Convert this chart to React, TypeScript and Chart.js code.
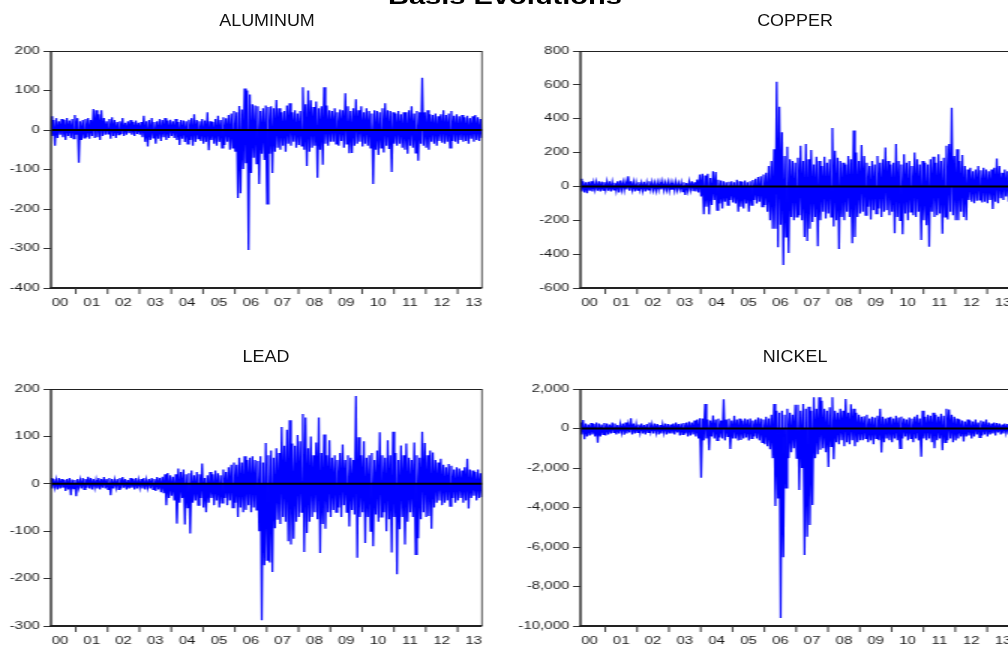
import React, { useEffect, useRef } from 'react';
import { Chart, registerables } from 'chart.js';

Chart.register(...registerables);

// ---------------- data (monthly envelope) ----------------
// one high and one low value per month, March 2000 .. September 2013
const YEAR_LABELS = ['00', '01', '02', '03', '04', '05', '06', '07', '08', '09', '10', '11', '12', '13'];
const FIRST_MONTH = 2000.22;
const X_MIN = 2000.22;
const X_MAX = 2013.765;

const ALU_HI = [
  35, 25, 30, 22, 28, 25, 30, 24, 28, 38,
  30, 22, 25, 28, 30, 25, 53, 50, 40, 50, 30, 22,
  28, 32, 25, 20, 22, 30, 18, 22, 25, 20, 24, 18,
  20, 36, 22, 25, 30, 20, 22, 28, 25, 30, 24, 26,
  22, 28, 20, 25, 24, 22, 26, 30, 40, 25, 22, 28,
  24, 45, 22, 20, 28, 36, 25, 32, 30, 38, 42, 48,
  45, 61, 52, 105, 100, 90, 65, 62, 60, 48, 55, 62,
  58, 60, 55, 76, 55, 45, 48, 62, 68, 45, 50, 42,
  48, 108, 65, 100, 75, 58, 72, 55, 60, 108, 62, 50,
  48, 55, 45, 52, 50, 93, 60, 48, 55, 78, 50, 60,
  45, 55, 48, 42, 50, 48, 45, 55, 68, 50, 48, 45,
  42, 48, 40, 45, 45, 50, 60, 42, 48, 45, 132, 45,
  50, 40, 38, 42, 35, 40, 50, 38, 42, 48, 36, 40,
  35, 38, 32, 36, 30, 35, 38, 32, 28,
];
const ALU_LO = [
  -15, -40, -20, -12, -18, -25, -15, -20, -22, -12,
  -83, -25, -20, -18, -22, -15, -20, -18, -25, -15, -12, -10,
  -22, -15, -20, -12, -10, -15, -12, -8, -12, -15, -10, -12,
  -18, -30, -42, -25, -20, -35, -22, -28, -18, -25, -20, -15,
  -20, -25, -38, -22, -30, -35, -25, -40, -30, -22, -28, -35,
  -30, -51, -25, -35, -40, -30, -45, -38, -30, -50, -45, -55,
  -172, -160, -99, -84, -304, -109, -70, -85, -137, -60, -76, -187,
  -60, -109, -55, -45, -50, -40, -55, -35, -40, -30, -45, -38,
  -40, -50, -91, -55, -45, -40, -121, -50, -88, -35, -40, -30,
  -30, -35, -40, -28, -45, -35, -59, -58, -40, -35, -30, -42,
  -35, -40, -45, -137, -50, -63, -45, -57, -40, -48, -106, -35,
  -40, -35, -45, -50, -60, -40, -45, -58, -78, -35, -40, -45,
  -50, -30, -35, -40, -28, -32, -35, -30, -45, -28, -30, -35,
  -25, -30, -28, -35, -22, -30, -25, -28, -20,
];

const COP_HI = [
  45, 30, 25, 28, 30, 22, 25, 30, 28, 25,
  28, 30, 25, 22, 30, 35, 25, 28, 60, 30, 25, 22,
  25, 20, 28, 22, 30, 25, 20, 22, 25, 28, 20, 25,
  22, 20, 25, 18, 22, 25, 20, 28, 30, 25, 40, 70,
  75, 65, 75, 50, 90, 85, 40, 35, 30, 25, 28, 30,
  25, 40, 30, 28, 35, 25, 30, 38, 45, 55, 60, 70,
  80, 120, 150, 220, 619, 471, 320, 180, 235, 160, 150, 140,
  170, 240, 150, 250, 160, 215, 130, 175, 150, 120, 175, 140,
  160, 345, 210, 170, 150, 140, 130, 180, 160, 330, 200, 150,
  245, 180, 140, 120, 150, 130, 180, 140, 160, 230, 150, 130,
  140, 250, 150, 130, 190, 140, 150, 120, 200, 160, 130, 150,
  140, 130, 160, 175, 140, 190, 150, 170, 240, 250, 465, 180,
  220, 150, 185, 120, 100, 110, 90, 100, 120, 95, 110, 100,
  90, 100, 110, 165, 120, 80, 100, 90, 70,
];
const COP_LO = [
  -30, -35, -40, -25, -30, -20, -25, -30, -22, -20,
  -25, -30, -20, -25, -35, -20, -22, -18, -25, -20, -30, -22,
  -20, -25, -30, -20, -18, -22, -25, -20, -18, -22, -20, -25,
  -20, -25, -22, -18, -30, -50, -25, -20, -28, -30, -35, -60,
  -165, -120, -165, -110, -80, -140, -100, -130, -90, -110, -80, -95,
  -100, -149, -120, -130, -100, -150, -110, -80, -100, -90, -120, -110,
  -150, -200, -250, -250, -359, -227, -464, -298, -393, -180, -200, -180,
  -170, -200, -298, -323, -250, -210, -180, -353, -200, -150, -190, -160,
  -180, -236, -200, -370, -180, -200, -150, -180, -335, -298, -180, -160,
  -150, -170, -120, -195, -140, -160, -130, -180, -150, -140, -170, -150,
  -276, -180, -200, -283, -160, -200, -150, -170, -180, -150, -316, -200,
  -230, -356, -150, -180, -170, -160, -280, -180, -195, -150, -170, -200,
  -200, -150, -180, -200, -80, -90, -100, -85, -80, -95, -90, -100,
  -80, -133, -90, -100, -70, -80, -60, -90, -70,
];

const LEAD_HI = [
  12, 10, 8, 12, 10, 8, 10, 12, 9, 8,
  10, 8, 12, 10, 15, 12, 10, 8, 12, 10, 14, 10,
  12, 10, 8, 10, 12, 14, 10, 8, 12, 10, 12, 8,
  10, 12, 8, 10, 12, 10, 14, 12, 15, 20, 23, 18,
  15, 20, 32, 25, 30, 20, 22, 28, 18, 25, 20, 43,
  12, 18, 25, 20, 28, 22, 18, 30, 25, 35, 40, 45,
  40, 55, 45, 58, 50, 55, 58, 50, 48, 58, 45, 86,
  60, 70, 55, 75, 65, 120, 80, 114, 134, 85, 80, 103,
  90, 147, 140, 75, 100, 60, 87, 140, 65, 104, 60, 92,
  55, 60, 50, 65, 83, 50, 60, 55, 50, 185, 98, 60,
  90, 55, 60, 65, 50, 70, 109, 60, 55, 92, 60, 110,
  65, 50, 81, 60, 85, 55, 50, 87, 60, 55, 110, 86,
  60, 70, 66, 50, 45, 53, 40, 35, 42, 38, 30, 35,
  32, 28, 35, 53, 30, 28, 25, 30, 22,
];
const LEAD_LO = [
  -10, -8, -12, -10, -8, -15, -12, -24, -10, -26,
  -8, -10, -12, -8, -10, -12, -8, -10, -12, -8, -10, -12,
  -24, -10, -8, -12, -10, -8, -12, -10, -8, -12, -10, -8,
  -10, -12, -8, -10, -12, -15, -12, -18, -20, -45, -30, -25,
  -35, -84, -40, -30, -86, -50, -105, -40, -35, -45, -30, -50,
  -60, -40, -30, -45, -35, -50, -40, -30, -45, -35, -50, -40,
  -70, -50, -60, -55, -45, -60, -50, -55, -100, -288, -172, -161,
  -166, -186, -94, -76, -85, -70, -80, -121, -128, -116, -80, -70,
  -60, -144, -104, -80, -70, -60, -75, -146, -85, -95, -60, -70,
  -55, -60, -50, -70, -45, -60, -90, -55, -65, -156, -70, -60,
  -125, -70, -100, -132, -65, -80, -70, -60, -100, -75, -145, -70,
  -191, -96, -70, -128, -80, -60, -70, -149, -115, -75, -60, -70,
  -68, -95, -50, -40, -35, -45, -40, -35, -47, -30, -40, -35,
  -30, -40, -35, -52, -30, -25, -35, -30, -28,
];

const NICK_HI = [
  300, 430, 250, 200, 280, 220, 300, 250, 200, 280,
  250, 200, 300, 250, 180, 220, 250, 300, 200, 516, 250, 220,
  200, 250, 180, 220, 300, 200, 250, 220, 180, 200, 250, 220,
  200, 250, 300, 220, 250, 280, 300, 350, 300, 400, 450, 514,
  500, 1240, 450, 400, 657, 450, 500, 400, 1480, 450, 500, 400,
  650, 450, 500, 400, 500, 450, 500, 400, 450, 550, 500, 450,
  600, 500, 700, 1240, 900, 800, 900, 700, 1000, 800, 700, 1200,
  1200, 900, 1240, 1000, 1100, 900, 1580, 1000, 1580, 1410, 1000, 900,
  1070, 1580, 900, 800, 1000, 900, 1490, 800, 1230, 1000, 800, 700,
  600, 620, 700, 500, 600, 550, 650, 1000, 600, 500, 550, 600,
  500, 650, 550, 600, 500, 450, 550, 500, 600, 700, 500, 900,
  600, 700, 650, 800, 700, 600, 750, 650, 1000, 960, 700, 600,
  500, 450, 400, 350, 450, 400, 350, 450, 300, 400, 350, 450,
  300, 250, 300, 280, 250, 200, 250, 220, 200,
];
const NICK_LO = [
  -300, -540, -400, -350, -300, -400, -720, -400, -300, -350,
  -300, -250, -200, -300, -250, -200, -320, -250, -200, -300, -250, -200,
  -200, -250, -300, -200, -150, -250, -200, -300, -250, -200, -300, -250,
  -250, -300, -200, -350, -300, -250, -400, -350, -300, -400, -500, -2490,
  -600, -500, -1100, -400, -500, -600, -450, -500, -600, -400, -1040, -500,
  -500, -600, -580, -500, -450, -600, -500, -400, -500, -600, -700, -800,
  -900, -1050, -1500, -3920, -3540, -9600, -6520, -3010, -1500, -1200, -1000, -1500,
  -3110, -2000, -6400, -5480, -4890, -3870, -1500, -1300, -1080, -1000, -1200, -1950,
  -900, -1560, -700, -800, -600, -900, -700, -800, -600, -900, -700, -600,
  -600, -500, -700, -600, -800, -500, -600, -1220, -700, -500, -600, -700,
  -500, -600, -1000, -500, -400, -600, -500, -700, -500, -600, -1430, -500,
  -600, -500, -700, -1000, -600, -500, -1100, -700, -600, -500, -700, -600,
  -500, -400, -660, -400, -350, -500, -400, -300, -450, -350, -300, -400,
  -300, -250, -350, -200, -300, -250, -200, -300, -250,
];

const ALU_Y_TICKS = [200, 100, 0, -100, -200, -300, -400];
const COP_Y_TICKS = [800, 600, 400, 200, 0, -200, -400, -600];
const LEAD_Y_TICKS = [200, 100, 0, -100, -200, -300];
const NICK_Y_TICKS = [2000, 0, -2000, -4000, -6000, -8000, -10000];

// ---------------- drawing ----------------
const SX = 1.5; // the picture is horizontally stretched
const FONT = '"Liberation Sans", Arial, Helvetica, sans-serif';
const CH = 324;

const framePlugin = {
  id: 'frame',
  afterDatasetsDraw(chart: any) {
    const { ctx, chartArea, scales } = chart;
    const { left, right, top, bottom } = chartArea;
    const y0 = scales.y.getPixelForValue(0);
    ctx.save();
    ctx.strokeStyle = '#000';
    ctx.lineWidth = 2;
    ctx.beginPath();
    ctx.moveTo(left, y0);
    ctx.lineTo(right, y0);
    ctx.stroke();

    ctx.strokeStyle = '#222';
    ctx.lineWidth = 1;
    ctx.beginPath();
    ctx.moveTo(left, top + 0.5);
    ctx.lineTo(right, top + 0.5);
    ctx.stroke();
    ctx.lineWidth = 0.8;
    ctx.beginPath();
    ctx.moveTo(right, top);
    ctx.lineTo(right, bottom);
    ctx.stroke();
    ctx.lineWidth = 1.4;
    ctx.beginPath();
    ctx.moveTo(left, top);
    ctx.lineTo(left, bottom + 1);
    ctx.stroke();
    ctx.lineWidth = 2;
    ctx.beginPath();
    ctx.moveTo(left - 0.7, bottom);
    ctx.lineTo(right, bottom);
    ctx.stroke();

    ctx.strokeStyle = '#333';
    ctx.lineWidth = 1;
    for (let yr = Math.ceil(X_MIN); yr <= X_MAX; yr++) {
      const px = scales.x.getPixelForValue(yr);
      ctx.beginPath();
      ctx.moveTo(px, bottom);
      ctx.lineTo(px, bottom + 6);
      ctx.stroke();
    }
    ctx.restore();
  },
};

type PanelProps = {
  left: number;
  top: number;
  axisW: number;
  hi: number[];
  lo: number[];
  yTicks: number[];
  padTop: number;
  padBottom: number;
};

function Panel({ left, top, axisW, hi, lo, yTicks, padTop, padBottom }: PanelProps) {
  const ref = useRef<HTMLCanvasElement>(null);
  const cw = axisW + 287.33 + 10.67;
  useEffect(() => {
    const canvas = ref.current;
    if (!canvas) return;
    const pts: { x: number; y: number }[] = [];
    for (let i = 0; i < hi.length; i++) {
      pts.push({ x: FIRST_MONTH + i / 12, y: hi[i] });
      pts.push({ x: FIRST_MONTH + (i + 0.5) / 12, y: lo[i] });
    }
    const sortedTicks = [...yTicks].sort((a, b) => a - b);
    const yMin = sortedTicks[0];
    const yMax = sortedTicks[sortedTicks.length - 1];
    const chart = new Chart(canvas, {
      type: 'line',
      data: {
        datasets: [
          {
            data: pts,
            borderColor: '#0000ff',
            backgroundColor: '#0000ff',
            borderWidth: 1.25,
            pointRadius: 0,
            tension: 0,
            fill: 'origin',
          },
        ],
      },
      options: {
        animation: false,
        responsive: false,
        devicePixelRatio: 1,
        events: [],
        layout: { padding: { left: 0, right: 10.67, top: padTop, bottom: padBottom } },
        plugins: {
          legend: { display: false },
          tooltip: { enabled: false },
          title: { display: false },
        },
        scales: {
          x: {
            type: 'linear',
            min: X_MIN,
            max: X_MAX,
            afterBuildTicks: (s: any) => {
              s.ticks = YEAR_LABELS.map((_, k) => ({ value: 2000.5 + k }));
            },
            afterFit: (s: any) => {
              s.height = 20;
              s.paddingLeft = 0;
              s.paddingRight = 0;
            },
            grid: { display: false, drawTicks: false },
            border: { display: false },
            ticks: {
              padding: 9,
              autoSkip: false,
              maxRotation: 0,
              color: '#1a1a1a',
              font: { family: FONT, size: 10 },
              callback: (v: any) => YEAR_LABELS[Math.round(Number(v) - 2000.5)],
            },
          },
          y: {
            type: 'linear',
            min: yMin,
            max: yMax,
            afterBuildTicks: (s: any) => {
              s.ticks = sortedTicks.map((v) => ({ value: v }));
            },
            afterFit: (s: any) => {
              s.width = axisW;
              s.paddingTop = 0;
              s.paddingBottom = 0;
            },
            grid: { drawOnChartArea: false, drawTicks: true, tickLength: 5, color: '#333', lineWidth: 1 },
            border: { display: false },
            ticks: {
              padding: 2.5,
              autoSkip: false,
              color: '#1a1a1a',
              font: { family: FONT, size: 10 },
              callback: (v: any) => Number(v).toLocaleString('en-US'),
            },
          },
        },
      },
      plugins: [framePlugin],
    } as any);
    return () => chart.destroy();
  }, []);
  return (
    <canvas
      ref={ref}
      width={cw}
      height={CH}
      style={{ position: 'absolute', left, top, width: cw, height: CH }}
    />
  );
}

function PanelTitle({ cx, cy, text }: { cx: number; cy: number; text: string }) {
  return (
    <div
      style={{
        position: 'absolute',
        left: cx - 100,
        top: cy - 7.8,
        width: 200,
        textAlign: 'center',
        fontFamily: FONT,
        fontSize: 16,
        lineHeight: '16px',
        color: '#111',
        whiteSpace: 'nowrap',
        transform: 'scaleX(1.12)',
        transformOrigin: '50% 50%',
      }}
    >
      {text}
    </div>
  );
}

export default function App() {
  return (
    <div
      style={{
        position: 'fixed',
        left: 0,
        top: 0,
        width: 1008,
        height: 648,
        overflow: 'hidden',
        background: '#fff',
      }}
    >
      <div
        style={{
          position: 'absolute',
          left: 0,
          top: 0,
          width: 700,
          height: 648,
          transform: `scaleX(${SX})`,
          transformOrigin: '0 0',
        }}
      >
        <Panel left={0} top={0} axisW={34} hi={ALU_HI} lo={ALU_LO} yTicks={ALU_Y_TICKS} padTop={51} padBottom={16} />
        <Panel left={336.67} top={0} axisW={50} hi={COP_HI} lo={COP_LO} yTicks={COP_Y_TICKS} padTop={51} padBottom={16} />
        <Panel left={0} top={324} axisW={34} hi={LEAD_HI} lo={LEAD_LO} yTicks={LEAD_Y_TICKS} padTop={65} padBottom={2} />
        <Panel left={336.67} top={324} axisW={50} hi={NICK_HI} lo={NICK_LO} yTicks={NICK_Y_TICKS} padTop={65} padBottom={2} />
      </div>
      <div
        style={{
          position: 'absolute',
          left: 0,
          top: -13.6,
          width: 1010,
          textAlign: 'center',
          fontFamily: FONT,
          fontWeight: 'bold',
          fontSize: 22,
          lineHeight: '22px',
          color: '#000',
          whiteSpace: 'nowrap',
          transform: 'scaleX(1.32)',
          transformOrigin: '50% 50%',
        }}
      >
        Basis Evolutions
      </div>
      <PanelTitle cx={267} cy={20.5} text="ALUMINUM" />
      <PanelTitle cx={795} cy={20.5} text="COPPER" />
      <PanelTitle cx={266} cy={357} text="LEAD" />
      <PanelTitle cx={794.5} cy={357} text="NICKEL" />
    </div>
  );
}
